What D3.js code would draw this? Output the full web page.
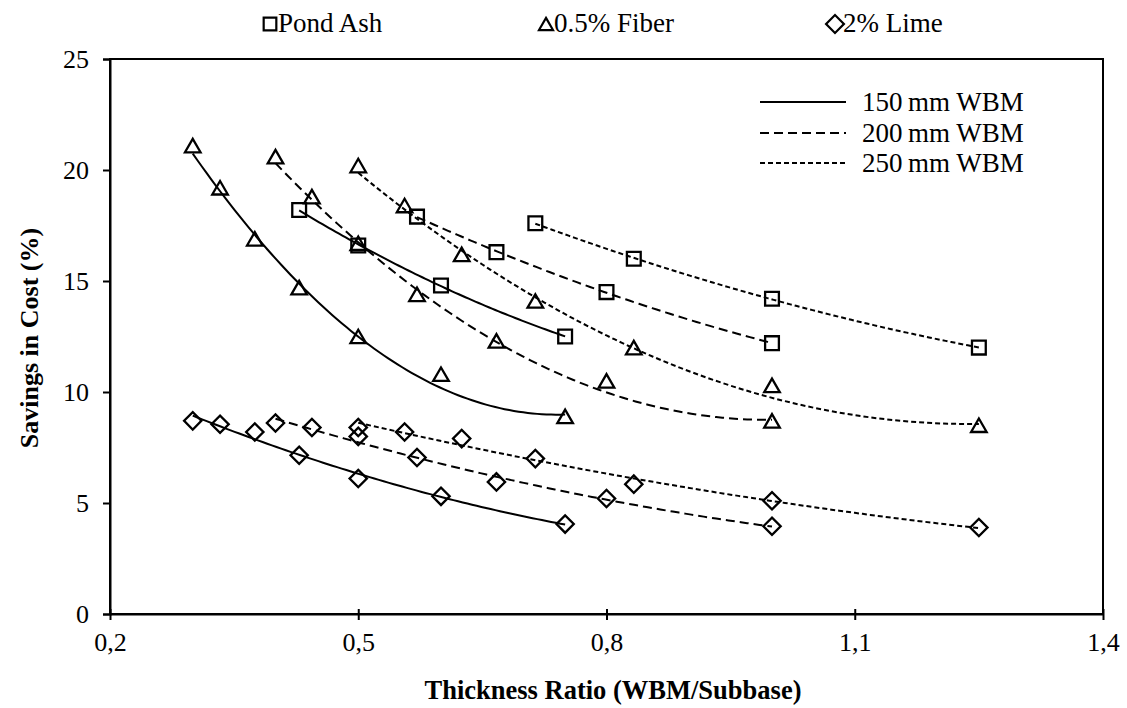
<!DOCTYPE html>
<html><head><meta charset="utf-8">
<script src="https://cdn.jsdelivr.net/npm/d3@7"></script>
<style>body{margin:0;background:#fff}text{font-family:"Liberation Serif","Times New Roman",serif;fill:#000}</style>
</head><body><svg id="c" width="1127" height="708"></svg>
<script>
// ---- data ----
const xTicks = [0.2, 0.5, 0.8, 1.1, 1.4];
const yTicks = [0, 5, 10, 15, 20, 25];
const materials = ["Pond Ash", "0.5% Fiber", "2% Lime"];
const wbmLabels = ["150\u2009mm WBM", "200\u2009mm WBM", "250\u2009mm WBM"];
const ratio150 = [0.3, 0.333, 0.375, 0.4286, 0.5, 0.6, 0.75];
const ratio200 = [0.4, 0.444, 0.5, 0.571, 0.667, 0.8, 1.0];
const ratio250 = [0.5, 0.556, 0.625, 0.714, 0.833, 1.0, 1.25];
const pondAsh150 = [null, null, null, 18.2, 16.6, 14.8, 12.5];
const pondAsh200 = [null, null, null, 17.9, 16.3, 14.5, 12.2];
const pondAsh250 = [null, null, null, 17.6, 16.0, 14.2, 12.0];
const fiber150 = [21.0, 19.1, 16.8, 14.6, 12.4, 10.7, 8.8];
const fiber200 = [20.5, 18.7, 16.6, 14.3, 12.2, 10.4, 8.6];
const fiber250 = [20.1, 18.3, 16.1, 14.0, 11.9, 10.2, 8.4];
const lime150 = [8.7, 8.55, 8.2, 7.15, 6.1, 5.3, 4.05];
const lime200 = [8.6, 8.4, 8.0, 7.05, 5.95, 5.2, 3.95];
const lime250 = [8.4, 8.2, 7.9, 7.0, 5.85, 5.1, 3.9];

const ratios = [ratio150, ratio200, ratio250];
const seriesByMaterial = [
  [pondAsh150, pondAsh200, pondAsh250],
  [fiber150, fiber200, fiber250],
  [lime150, lime200, lime250]
];

// ---- layout ----
const svg = d3.select("#c");
const L = 110, R = 1103, T = 59, B = 614;
const x = d3.scaleLinear().domain([0.2, 1.4]).range([L, R]);
const y = d3.scaleLinear().domain([0, 25]).range([B, T]);
const FS = 25;

const dashes = [null, "9,5", "5,3"];
const symSize = [190, 105, 150];
function markerPath(m, size) {
  if (m === 1) return d3.symbol(d3.symbolTriangle, size)();
  return d3.symbol(d3.symbolSquare, size)();
}
const markerRot = [0, 0, 45];

// frame
svg.append("rect").attr("x", L).attr("y", T).attr("width", R - L).attr("height", B - T)
  .attr("fill", "none").attr("stroke", "#000").attr("stroke-width", 2);

// axes
const xAxis = d3.axisBottom(x).tickValues(xTicks).tickSize(0)
  .tickFormat(d => d3.format(".1f")(d).replace(".", ","));
const gx = svg.append("g").attr("transform", `translate(0,${B})`).call(xAxis);
gx.select(".domain").attr("stroke", "#000").attr("stroke-width", 2);
gx.selectAll(".tick line").remove();
gx.selectAll(".tick").append("line").attr("y1", -5).attr("y2", 6).attr("stroke", "#000").attr("stroke-width", 2);
gx.selectAll(".tick text").attr("y", 37).attr("dy", 0).style("font-size", "26px")
  .style("font-family", '"Liberation Serif","Times New Roman",serif');

const yAxis = d3.axisLeft(y).tickValues(yTicks).tickSize(7).tickPadding(14);
const gy = svg.append("g").attr("transform", `translate(${L},0)`).call(yAxis);
gy.select(".domain").attr("stroke", "#000").attr("stroke-width", 2);
gy.selectAll(".tick line").attr("stroke", "#000").attr("stroke-width", 2);
gy.selectAll(".tick text").attr("dy", "0.34em").style("font-size", "26px")
  .style("font-family", '"Liberation Serif","Times New Roman",serif');

// titles
svg.append("text").attr("x", 613).attr("y", 699).attr("text-anchor", "middle")
  .style("font-size", "26.5px").style("font-weight", "bold").text("Thickness Ratio (WBM/Subbase)");
svg.append("text").attr("transform", `translate(38,338) rotate(-90)`).attr("text-anchor", "middle")
  .style("font-size", "26px").style("font-weight", "bold").text("Savings in Cost (%)");

// quadratic trendline fit (Excel-style polynomial trendline)
function quadFit(xs, ys) {
  const S = [0, 0, 0, 0, 0], V = [0, 0, 0];
  xs.forEach((xv, i) => {
    let p = 1;
    for (let k = 0; k < 5; k++) { S[k] += p; if (k < 3) V[k] += p * ys[i]; p *= xv; }
  });
  const A = [[S[0], S[1], S[2], V[0]], [S[1], S[2], S[3], V[1]], [S[2], S[3], S[4], V[2]]];
  for (let c = 0; c < 3; c++) {
    for (let r = c + 1; r < 3; r++) {
      const f = A[r][c] / A[c][c];
      for (let k = c; k < 4; k++) A[r][k] -= f * A[c][k];
    }
  }
  const cf = [0, 0, 0];
  for (let r = 2; r >= 0; r--) {
    let s = A[r][3];
    for (let k = r + 1; k < 3; k++) s -= A[r][k] * cf[k];
    cf[r] = s / A[r][r];
  }
  return xv => cf[0] + cf[1] * xv + cf[2] * xv * xv;
}

const line = d3.line().x(d => x(d[0])).y(d => y(d[1])).curve(d3.curveLinear);

seriesByMaterial.forEach((group, m) => {
  group.forEach((vals, w) => {
    const pts = ratios[w].map((r, i) => [r, vals[i]]).filter(p => p[1] != null);
    const f = quadFit(pts.map(p => p[0]), pts.map(p => p[1]));
    const x0 = pts[0][0], x1 = pts[pts.length - 1][0];
    const curve = d3.range(0, 81).map(i => { const xv = x0 + (x1 - x0) * i / 80; return [xv, f(xv)]; });
    svg.append("path").attr("d", line(curve)).attr("fill", "none").attr("stroke", "#000")
      .attr("stroke-width", 2).attr("stroke-dasharray", dashes[w]);
  });
});

seriesByMaterial.forEach((group, m) => {
  group.forEach((vals, w) => {
    const pts = ratios[w].map((r, i) => [r, vals[i]]).filter(p => p[1] != null);
    svg.selectAll(null).data(pts).enter().append("path")
      .attr("d", markerPath(m, symSize[m]))
      .attr("transform", d => `translate(${x(d[0])},${y(d[1])}) rotate(${markerRot[m]})`)
      .attr("fill", "none").attr("stroke", "#000").attr("stroke-width", 2.3);
  });
});

// material legend (top)
const legX = [270, 546, 835];
materials.forEach((name, m) => {
  svg.append("path").attr("d", markerPath(m, m === 1 ? 85 : 160))
    .attr("transform", `translate(${legX[m]},${m === 1 ? 26 : 24}) rotate(${markerRot[m]})`)
    .attr("fill", "none").attr("stroke", "#000").attr("stroke-width", 2.2);
  svg.append("text").attr("x", legX[m] + 8).attr("y", 32).style("font-size", "27px").text(name);
});

// WBM legend
const wy = [102, 133, 163];
wbmLabels.forEach((name, w) => {
  svg.append("line").attr("x1", 760).attr("x2", 846).attr("y1", wy[w]).attr("y2", wy[w])
    .attr("stroke", "#000").attr("stroke-width", 2).attr("stroke-dasharray", dashes[w]);
  svg.append("text").attr("x", 862).attr("y", wy[w] + 9).style("font-size", "27px").text(name);
});
</script></body></html>
